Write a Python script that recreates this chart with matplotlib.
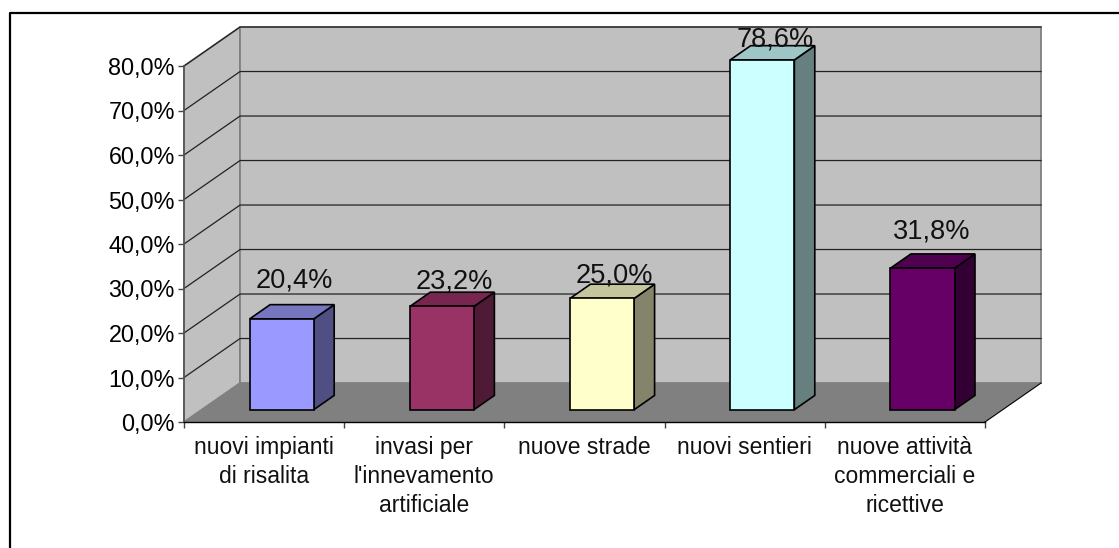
import matplotlib

matplotlib.use("Agg")
import matplotlib.pyplot as plt
from matplotlib.patches import Polygon

plt.rcParams["font.family"] = ["Liberation Sans", "DejaVu Sans"]

CATEGORIES = [
    "nuovi impianti\ndi risalita",
    "invasi per\nl'innevamento\nartificiale",
    "nuove strade",
    "nuovi sentieri",
    "nuove attività\ncommerciali e\nricettive",
]
VALUES = [20.4, 23.2, 25.0, 78.6, 31.8]
VALUE_LABELS = ["20,4%", "23,2%", "25,0%", "78,6%", "31,8%"]
Y_TICKS = [0, 10, 20, 30, 40, 50, 60, 70, 80]
Y_TICK_LABELS = ["0,0%", "10,0%", "20,0%", "30,0%", "40,0%", "50,0%", "60,0%", "70,0%", "80,0%"]
FRONT_COLORS = ["#9999ff", "#993366", "#ffffcc", "#ccffff", "#660066"]
TOP_COLORS = ["#7676c0", "#77274f", "#c6c69e", "#9ec6c6", "#4f004f"]
SIDE_COLORS = ["#4f4f84", "#4f1a35", "#84846a", "#668080", "#330033"]

W, H = 1119, 548

# 3d look, in data units
DEPTH_X = 0.35
DEPTH_Y = 8.76
BAR_X = 0.41
BAR_W = 0.40
BAR_LIFT = 2.77
BAR_DX = 0.1275
BAR_DY = 3.2

# label nudges in pixels from the top back corner of each bar
LABEL_NUDGE_X = [2, 2, 2, 3, -1]
LABEL_NUDGE_Y = [17, 4, 2, -1, 15]


def poly(ax, pts, color, edge="none", lw=0.0, z=1):
    ax.add_patch(Polygon(pts, closed=True, facecolor=color, edgecolor=edge,
                         linewidth=lw, zorder=z, clip_on=False, joinstyle="miter"))


def main() -> None:
    fig = plt.figure(figsize=(W / 100, H / 100), dpi=100, facecolor="white")

    # page frame
    frame = fig.add_axes([0, 0, 1, 1])
    frame.set_xlim(0, W)
    frame.set_ylim(H, 0)
    frame.axis("off")
    frame.plot([9.5, 9.5, W], [H, 13.3, 13.3], color="black", linewidth=1.6, solid_capstyle="butt")

    ax = fig.add_axes([184 / W, 1 - 422 / H, 801 / W, 356 / H])
    ax.set_xlim(0, 5)
    ax.set_ylim(0, 80)
    ax.patch.set_visible(False)
    for name in ["top", "right"]:
        ax.spines[name].set_visible(False)
    ax.spines["left"].set_color("#555555")
    ax.spines["left"].set_linewidth(1.2)
    ax.spines["bottom"].set_color("black")
    ax.spines["bottom"].set_linewidth(1.0)

    # walls and floor
    poly(ax, [(0, 0), (DEPTH_X, DEPTH_Y), (DEPTH_X, 80 + DEPTH_Y), (0, 80)], "#c0c0c0", edge="#808080", lw=1.3)
    poly(ax, [(DEPTH_X, DEPTH_Y), (5 + DEPTH_X, DEPTH_Y), (5 + DEPTH_X, 80 + DEPTH_Y), (DEPTH_X, 80 + DEPTH_Y)],
         "#c0c0c0", edge="#808080", lw=1.3)
    poly(ax, [(0, 0), (5, 0), (5 + DEPTH_X, DEPTH_Y), (DEPTH_X, DEPTH_Y)], "#808080", z=1.5)
    ax.plot([5, 5 + DEPTH_X], [0, DEPTH_Y], color="black", linewidth=0.8, zorder=1.6, clip_on=False)

    # gridlines on both walls
    for y in Y_TICKS[1:]:
        ax.plot([0, DEPTH_X, 5 + DEPTH_X], [y, y + DEPTH_Y, y + DEPTH_Y], color="#222222", linewidth=0.9,
                zorder=1.2, clip_on=False)

    # bars
    for i, value in enumerate(VALUES):
        x0 = i + BAR_X
        x1 = x0 + BAR_W
        y0 = BAR_LIFT
        y1 = BAR_LIFT + value
        poly(ax, [(x1, y0), (x1 + BAR_DX, y0 + BAR_DY), (x1 + BAR_DX, y1 + BAR_DY), (x1, y1)],
             SIDE_COLORS[i], edge="black", lw=1.2, z=2)
        poly(ax, [(x0, y1), (x1, y1), (x1 + BAR_DX, y1 + BAR_DY), (x0 + BAR_DX, y1 + BAR_DY)],
             TOP_COLORS[i], edge="black", lw=1.2, z=2)
        poly(ax, [(x0, y0), (x1, y0), (x1, y1), (x0, y1)], FRONT_COLORS[i], edge="black", lw=1.2, z=2.1)
        ax.annotate(VALUE_LABELS[i], xy=(x0 + BAR_W / 2 + BAR_DX / 2, y1 + BAR_DY),
                    xytext=(LABEL_NUDGE_X[i], LABEL_NUDGE_Y[i]), textcoords="offset pixels",
                    ha="center", va="baseline", fontsize=19.6,
                    color="#111111", zorder=3, annotation_clip=False)

    ax.set_yticks(Y_TICKS)
    ax.set_yticklabels(Y_TICK_LABELS, fontsize=16.8)
    ax.tick_params(axis="y", length=4, width=1.0, color="#444444", pad=2.5)

    ax.set_xticks(range(6))
    ax.set_xticklabels([])
    ax.set_xticks([i + 0.5 for i in range(5)], minor=True)
    ax.set_xticklabels(CATEGORIES, minor=True, fontsize=16.5, linespacing=1.35, color="#111111")
    ax.tick_params(axis="x", which="major", length=4, width=1.0, color="#444444")
    ax.tick_params(axis="x", which="minor", length=0, pad=10)

    fig.savefig("out.png", dpi=100)
    plt.close(fig)


if __name__ == "__main__":
    main()
